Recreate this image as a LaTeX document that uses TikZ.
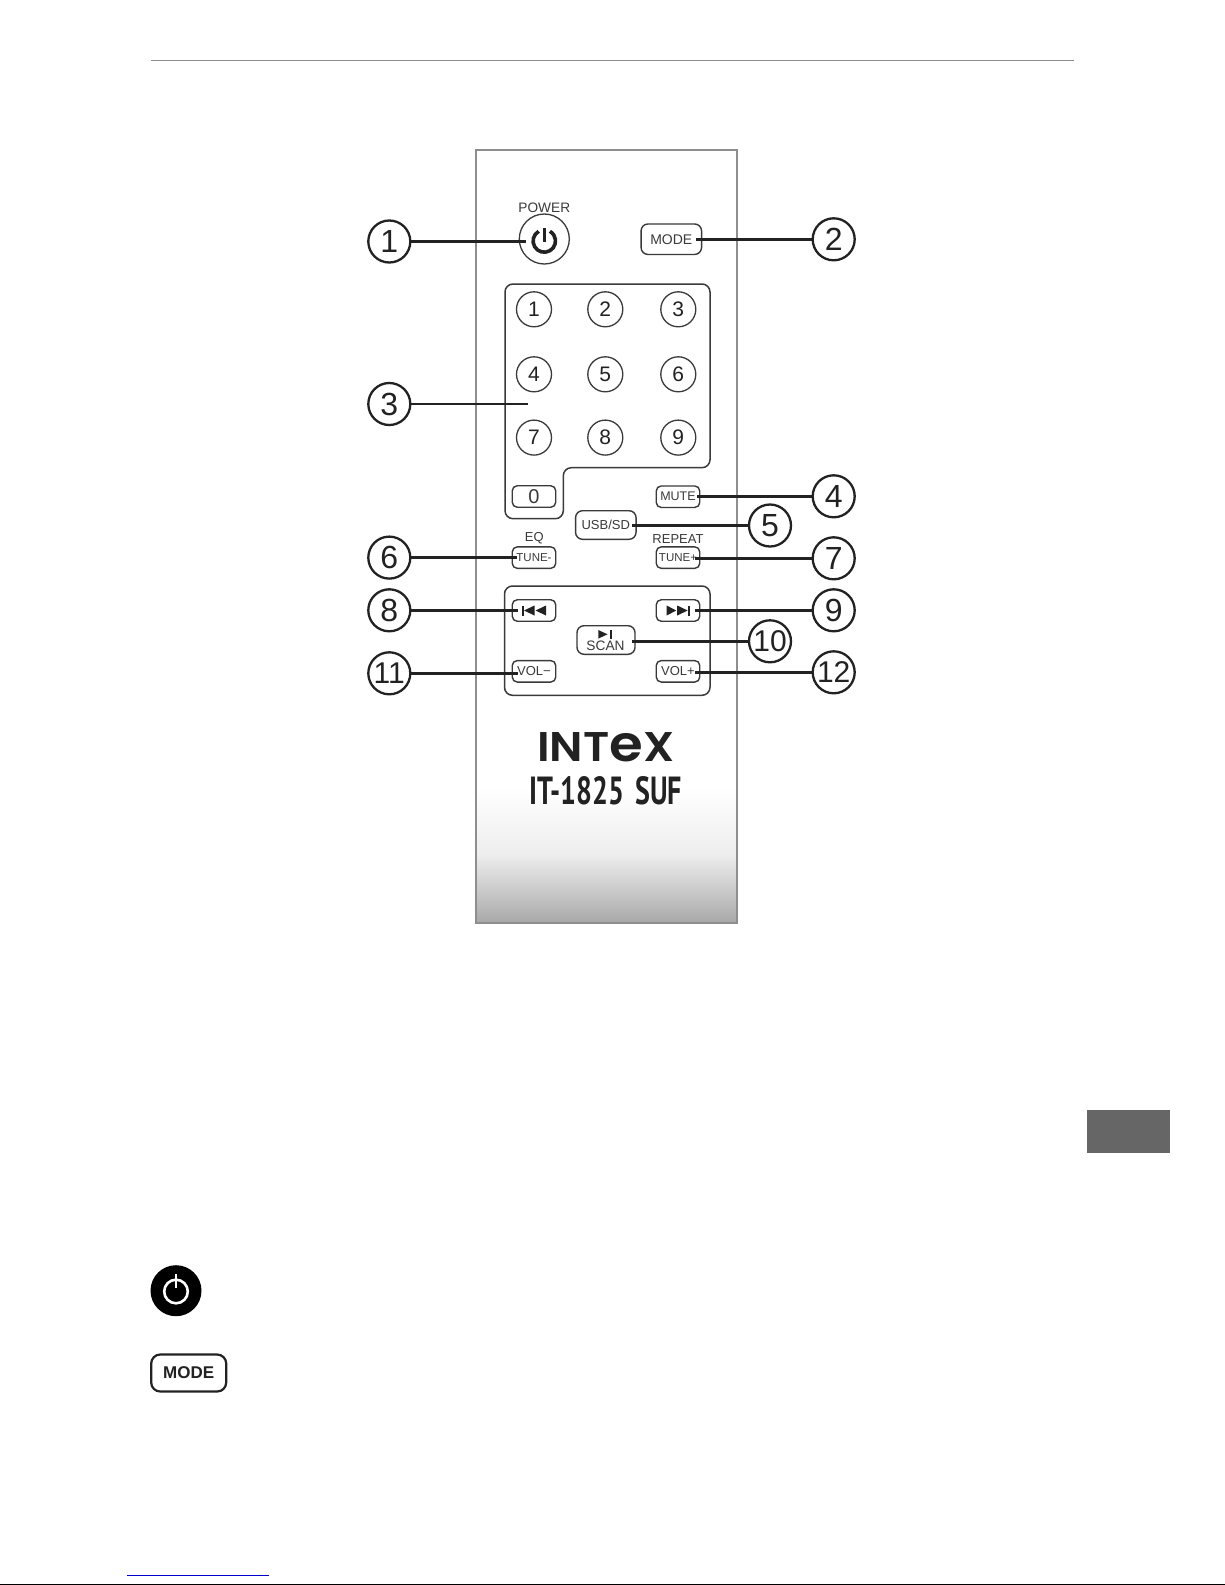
\documentclass[tikz,border=0pt]{standalone}
\usepackage{fontspec}
\usepackage{graphicx}
\setmainfont{Liberation Sans}
\newfontfamily\logofont{Poppins SemiBold}
\newfontfamily\modelfont{PT Sans}
\definecolor{ink}{HTML}{222222}
\definecolor{soft}{HTML}{3A3A3A}
\definecolor{edge}{HTML}{8E8E8E}
\definecolor{tabgray}{HTML}{666666}
\definecolor{linkblue}{HTML}{0000CC}
\newcommand{\pxfont}[1]{\fontsize{#1}{#1}\selectfont}
\tikzset{
  callout/.style={circle,draw=ink,line width=2.3pt,minimum size=42pt,inner sep=0pt,text=ink,font=\pxfont{32}},
  calloutwide/.style={callout,font=\pxfont{30}},
  lead/.style={draw=ink,line width=2.4pt},
  numkey/.style={circle,draw=soft,line width=1.3pt,minimum size=35pt,inner sep=0pt,text=ink,font=\pxfont{21}},
  smallkey/.style={draw=soft,line width=1.4pt,rounded corners=5pt,minimum width=43.5pt,minimum height=21.5pt,inner sep=0pt,text=soft,font=\pxfont{12}},
  widekey/.style={draw=soft,line width=1.4pt,rounded corners=7pt,inner sep=0pt,text=soft,font=\pxfont{13.5}},
  caption/.style={inner sep=0pt,text=soft,font=\pxfont{13}},
  outline/.style={draw=soft,line width=1.5pt,rounded corners=8pt},
  glyph/.style={fill=ink,draw=none},
}
\begin{document}
\begin{tikzpicture}[x=1pt,y=-1pt]
\useasboundingbox (0,0) rectangle (1225,1585);
\fill[white] (0,0) rectangle (1225,1585);
% page furniture
\draw[draw=edge,line width=1pt] (151,60.5) -- (1074,60.5);
\fill[tabgray] (1087,1110) rectangle (1170,1152.7);
\draw[linkblue,line width=1pt] (127,1575.5) -- (269,1575.5);
\fill[black] (0,1583.6) rectangle (1225,1585);
% remote body
\shade[top color=white,bottom color=black!34,middle color=black!7] (476,787) rectangle (737,923);
\draw[edge,line width=1.25pt] (476,150) rectangle (737,923);
% key groups
\draw[outline] (505,284) -- (710,284) -- (710,467.7) -- (563.3,467.7) -- (563.3,518.7) -- (505,518.7) -- cycle;
\draw[outline] (504.5,586) rectangle (710,695.3);
% power
\node[caption,font=\pxfont{13.7}] (powerlabel) at (544.3,207.7) {POWER};
\node[circle,draw=soft,line width=1.3pt,minimum size=50pt,inner sep=0pt] (power) at (544.3,239) {};
\draw[ink,line width=3.6pt] (544.3,241) ++(240:11.2) arc[start angle=120,end angle=420,radius=11.2pt];
\draw[ink,line width=3.2pt] (544.3,228) -- (544.3,241.5);
% mode
\node[widekey,minimum width=60.5pt,minimum height=30.5pt,font=\pxfont{14}] (mode) at (671.3,239.2) {MODE};
% number keys
\node[numkey] (k1) at (534,309.3) {1};
\node[numkey] (k2) at (605.3,309.3) {2};
\node[numkey] (k3) at (678.3,309.3) {3};
\node[numkey] (k4) at (534,374.3) {4};
\node[numkey] (k5) at (605.3,374.3) {5};
\node[numkey] (k6) at (678.3,374.3) {6};
\node[numkey] (k7) at (534,437.6) {7};
\node[numkey] (k8) at (605.3,437.6) {8};
\node[numkey] (k9) at (678.3,437.6) {9};
\node[smallkey,font=\pxfont{20}] (k0) at (534,496.5) {0};
% other keys
\node[smallkey,font=\pxfont{12.5}] (mute) at (678,496.7) {MUTE};
\node[widekey,minimum width=60.5pt,minimum height=28.6pt,font=\pxfont{13}] (usb) at (605.8,525) {USB/SD};
\node[caption] (eq) at (534.3,538) {EQ};
\node[caption] (repeat) at (678,538.6) {REPEAT};
\node[smallkey,font=\pxfont{11.5}] (tuneminus) at (534,557.6) {TUNE-};
\node[smallkey,font=\pxfont{11.5}] (tuneplus) at (678,557.6) {TUNE+};
\node[smallkey] (prev) at (534,610.5) {};
\node[smallkey] (next) at (678,610.5) {};
\node[widekey,minimum width=58pt,minimum height=28.6pt] (scan) at (606,640) {};
\node[inner sep=0pt,text=soft,font=\pxfont{13.7}] (scanlabel) at (605.5,646) {SCAN};
\node[smallkey,font=\pxfont{13}] (volminus) at (534,671.3) {VOL−};
\node[smallkey,font=\pxfont{13}] (volplus) at (678,671.3) {VOL+};
% transport glyphs
\fill[glyph] (521.7,605.5) rectangle (524,615.5);
\fill[glyph] (524,610.5) -- (534.5,605.5) -- (534.5,615.5) -- cycle;
\fill[glyph] (535.5,610.5) -- (546,605.5) -- (546,615.5) -- cycle;
\fill[glyph] (690,605.5) rectangle (687.7,615.5);
\fill[glyph] (687.7,610.5) -- (677.2,605.5) -- (677.2,615.5) -- cycle;
\fill[glyph] (676.2,610.5) -- (666.7,605.5) -- (666.7,615.5) -- cycle;
\fill[glyph] (598.3,630) -- (607.5,634.3) -- (598.3,638.6) -- cycle;
\fill[glyph] (610,630) rectangle (611.6,638.6);
% brand
\node[inner sep=0pt,text=ink] (brand) at (605.8,747) {\resizebox{137pt}{29pt}{\logofont INT\scalebox{1.2}{e}X}};
\node[inner sep=0pt,text=ink] (model) at (606,791) {\resizebox{152pt}{28pt}{\modelfont\bfseries IT-1825\hspace{.4em}SUF}};
% callouts
\node[callout] (c1) at (389.3,241.5) {1};
\node[callout] (c2) at (833.7,239.3) {2};
\node[callout] (c3) at (389.3,404) {3};
\node[callout] (c4) at (833.7,496.3) {4};
\node[callout] (c5) at (770,525.5) {5};
\node[callout] (c6) at (389.3,557.6) {6};
\node[callout] (c7) at (833.7,558.3) {7};
\node[callout] (c8) at (389.3,610.3) {8};
\node[callout] (c9) at (833.7,610.3) {9};
\node[calloutwide] (c10) at (770,641.3) {10};
\node[calloutwide] (c11) at (389.3,673.3) {11};
\node[calloutwide] (c12) at (833.7,672.3) {12};
% lead ends
\coordinate (e1) at (526,241.5);
\coordinate (e2) at (696,239.3);
\coordinate (e3) at (527.7,404);
\coordinate (e4) at (696.7,496.3);
\coordinate (e5) at (631.7,525.5);
\coordinate (e6) at (516.7,557.6);
\coordinate (e7) at (695,558.3);
\coordinate (e8) at (518,610.3);
\coordinate (e9) at (695,610.3);
\coordinate (e10) at (631.7,641.3);
\coordinate (e11) at (518,673.3);
\coordinate (e12) at (695,672.3);
\draw[lead] (c1) -- (e1);
\draw[lead] (c2) -- (e2);
\draw[lead] (c3) -- (e3);
\draw[lead] (c4) -- (e4);
\draw[lead] (c5) -- (e5);
\draw[lead] (c6) -- (e6);
\draw[lead] (c7) -- (e7);
\draw[lead] (c8) -- (e8);
\draw[lead] (c9) -- (e9);
\draw[lead] (c10) -- (e10);
\draw[lead] (c11) -- (e11);
\draw[lead] (c12) -- (e12);
% legend icons
\node[circle,fill=black,minimum size=51pt,inner sep=0pt] (iconpower) at (176,1290.7) {};
\draw[white,line width=2.6pt] (176,1291.5) circle[radius=11.8pt];
\draw[white,line width=2.6pt] (176,1274) -- (176,1288);
\node[draw=ink,line width=2.2pt,rounded corners=9pt,minimum width=75pt,minimum height=37pt,inner sep=0pt,text=ink,font=\pxfont{17}\bfseries] (iconmode) at (188.7,1373) {MODE};
\end{tikzpicture}
\end{document}
